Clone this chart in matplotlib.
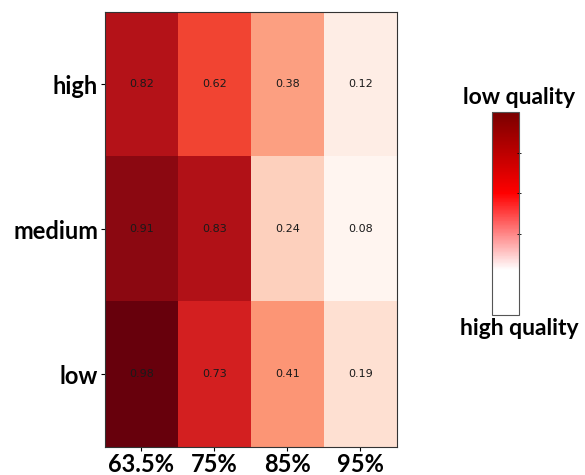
import matplotlib.pyplot as plt
import numpy as np
from matplotlib.colors import LinearSegmentedColormap
from matplotlib.cm import ScalarMappable

rows = ['high', 'medium', 'low']
cols = ['63.5%', '75%', '85%', '95%']
high = [0.82, 0.62, 0.38, 0.12]
medium = [0.91, 0.83, 0.24, 0.08]
low = [0.98, 0.73, 0.41, 0.19]

vals = np.array([high, medium, low])

fig = plt.figure(figsize=(5.85, 4.75), dpi=100)
ax = fig.add_axes([0.1795, 0.059, 0.499, 0.916])
ax.imshow(vals, cmap='Reds', vmin=vals.min(), vmax=vals.max(), aspect='auto')

for i in range(len(rows)):
    for j in range(len(cols)):
        ax.text(j, i, '%.2f' % vals[i, j], ha='center', va='center', fontsize=8, color='#1a1a1a')

ax.set_xticks(range(len(cols)))
ax.set_xticklabels(cols, fontsize=17, fontweight='bold', family='Lato')
ax.set_yticks(range(len(rows)))
ax.set_yticklabels(rows, fontsize=17, fontweight='bold', family='Lato')
ax.tick_params(axis='y', length=3, width=0.8, pad=2)
ax.tick_params(axis='x', length=3, width=0.8, pad=1)
for s in ax.spines.values():
    s.set_color('#333333')
    s.set_linewidth(0.8)

# colorbar with its own white -> red -> dark red map
cm = LinearSegmentedColormap.from_list('q', [(0, 'white'), (0.22, 'white'), (0.6, 'red'), (1, '#7a0000')])
cax = fig.add_axes([0.841, 0.337, 0.046, 0.427])
cb = fig.colorbar(ScalarMappable(cmap=cm), cax=cax, ticks=[0.4, 0.6, 0.8])
cb.ax.set_yticklabels([])
cb.ax.tick_params(length=3, width=0.6, direction='inout')
cb.outline.set_edgecolor('#555555')
cb.outline.set_linewidth(0.8)

fig.text(0.887, 0.795, 'low quality', ha='center', va='center', fontsize=16.5, fontweight='bold', family='Lato')
fig.text(0.887, 0.308, 'high quality', ha='center', va='center', fontsize=16.5, fontweight='bold', family='Lato')

fig.savefig('out.png', dpi=100)
